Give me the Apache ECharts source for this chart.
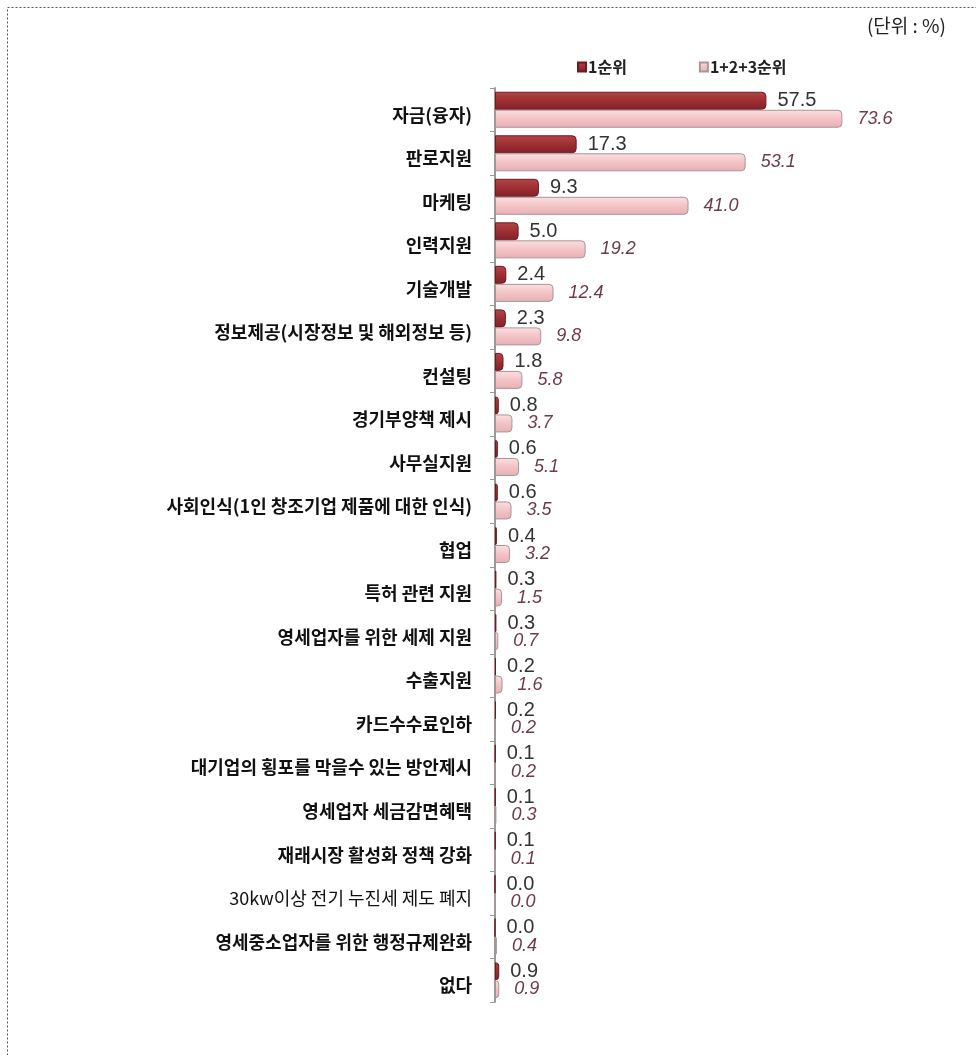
<!DOCTYPE html>
<html>
<head>
<meta charset="utf-8">
<script src="https://cdn.jsdelivr.net/npm/echarts@6/dist/echarts.min.js"></script>
<style>
html,body{margin:0;padding:0;background:#fff;}
#chart{width:976px;height:1055px;}
</style>
</head>
<body>
<div id="chart"></div>
<script>
const categories = [
  '자금(융자)', '판로지원', '마케팅', '인력지원', '기술개발',
  '정보제공(시장정보 및 해외정보 등)', '컨설팅', '경기부양책 제시', '사무실지원',
  '사회인식(1인 창조기업 제품에 대한 인식)', '협업', '특허 관련 지원',
  '영세업자를 위한 세제 지원', '수출지원', '카드수수료인하',
  '대기업의 횡포를 막을수 있는 방안제시', '영세업자 세금감면혜택',
  '재래시장 활성화 정책 강화', '30kw이상 전기 누진세 제도 폐지',
  '영세중소업자를 위한 행정규제완화', '없다'
];
const rank1 = [57.5, 17.3, 9.3, 5.0, 2.4, 2.3, 1.8, 0.8, 0.6, 0.6, 0.4, 0.3, 0.3, 0.2, 0.2, 0.1, 0.1, 0.1, 0.0, 0.0, 0.9];
const rank123 = [73.6, 53.1, 41.0, 19.2, 12.4, 9.8, 5.8, 3.7, 5.1, 3.5, 3.2, 1.5, 0.7, 1.6, 0.2, 0.2, 0.3, 0.1, 0.0, 0.4, 0.9];
const seriesNames = ['1순위', '1+2+3순위'];
const unitText = '(단위 : %)';

const chart = echarts.init(document.getElementById('chart'), null, {renderer: 'canvas'});
const FONT = '"Noto Sans CJK KR", "Noto Sans", sans-serif';
const NUMFONT = '"Liberation Sans", Arial, sans-serif';

chart.setOption({
  animation: false,
  backgroundColor: '#ffffff',
  graphic: [
    {type: 'rect', shape: {x: 7.5, y: 7.5, width: 1000, height: 1100},
     style: {fill: 'none', stroke: '#555', lineWidth: 1, lineDash: [2, 2]}, silent: true},
    {type: 'text', right: 30, top: 16,
     style: {text: unitText, font: '19px "Noto Sans CJK KR", sans-serif', fill: '#222'}}
  ],
  legend: {
    left: 572, top: 54,
    icon: 'rect', itemWidth: 8, itemHeight: 9, itemGap: 72,
    textStyle: {fontFamily: FONT, fontWeight: 'bold', fontSize: 16, color: '#222', padding: [0, 0, 0, -3]},
    data: seriesNames
  },
  grid: {left: 495, top: 88, width: 472, height: 914, containLabel: false},
  xAxis: {
    type: 'value', min: 0, max: 100,
    show: false
  },
  yAxis: {
    type: 'category', data: categories, inverse: true, offset: 3,
    axisLine: {show: true, lineStyle: {color: '#9a9a9a', width: 2}},
    axisTick: {show: true, length: 5, lineStyle: {color: '#9a9a9a', width: 1}},
    axisLabel: {
      margin: 20, fontFamily: FONT, fontSize: 18, fontWeight: 'bold', color: '#111',
      padding: [10, 0, 0, 0],
      formatter: function (v) { return v.indexOf('30kw') === 0 ? '{n|' + v + '}' : v; },
      rich: {n: {fontFamily: FONT, fontSize: 18, fontWeight: 'normal', color: '#111'}}
    }
  },
  series: [
    {
      name: seriesNames[0], type: 'bar', data: rank1,
      barWidth: 18, barGap: '0%', barCategoryGap: '15%',
      itemStyle: {
        color: new echarts.graphic.LinearGradient(0, 0, 0, 1, [
          {offset: 0, color: '#b34649'}, {offset: 0.5, color: '#9e2f33'}, {offset: 1, color: '#82202a'}
        ]),
        borderColor: '#6e1a1e', borderWidth: 1, borderRadius: [0, 4, 4, 0]
      },
      label: {
        show: true, position: 'right', distance: 11,
        fontFamily: NUMFONT, fontSize: 20, color: '#333',
        formatter: p => p.value.toFixed(1)
      }
    },
    {
      name: seriesNames[1], type: 'bar', data: rank123,
      barWidth: 18,
      itemStyle: {
        color: new echarts.graphic.LinearGradient(0, 0, 0, 1, [
          {offset: 0, color: '#fbe0e1'}, {offset: 0.5, color: '#f3c3c5'}, {offset: 1, color: '#e7b0b3'}
        ]),
        borderColor: '#a89597', borderWidth: 1, borderRadius: [0, 4, 4, 0]
      },
      label: {
        show: true, position: 'right', distance: 15,
        fontFamily: NUMFONT, fontSize: 18, fontStyle: 'italic',
        color: '#6e3a4e',
        formatter: p => p.value.toFixed(1)
      }
    }
  ]
});
</script>
</body>
</html>
